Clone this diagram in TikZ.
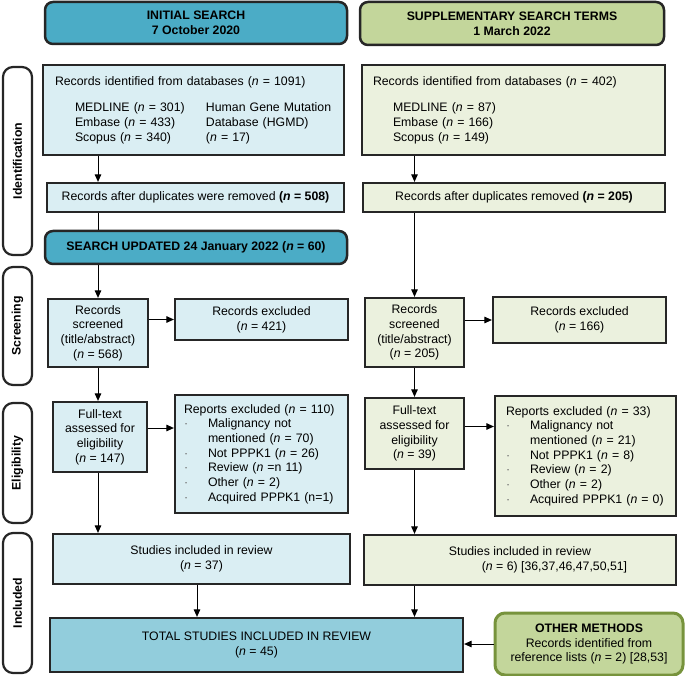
\documentclass[tikz,border=0pt]{standalone}
\usepackage{fontspec}
\setmainfont{Liberation Sans}
\usepackage{tikz}
\usetikzlibrary{positioning}
\usetikzlibrary{arrows.meta,calc}
\definecolor{headblue}{HTML}{4BACC6}
\definecolor{totblue}{HTML}{92CDDC}
\definecolor{paleblue}{HTML}{DAEEF3}
\definecolor{headgreen}{HTML}{C3D69B}
\definecolor{palegreen}{HTML}{EBF1DE}
\definecolor{othborder}{HTML}{77933C}
\tikzstyle{box} = [rectangle, draw=black!85, line width=2.2pt, inner sep=0pt, align=center, font=\fontsize{12.3}{14.7}\selectfont]
\tikzstyle{head} = [box, rounded corners=8pt, line width=2.5pt, font=\fontsize{12.3}{15}\selectfont\bfseries]
\tikzstyle{phase} = [box, rounded corners=10pt, fill=white, rotate=90, font=\fontsize{12.3}{14.7}\selectfont\bfseries]
\tikzstyle{arrow} = [line width=1pt, ->, >={Triangle[length=7.5pt,width=6.5pt]}]
\tikzstyle{plain} = [line width=1pt]
\newcommand{\exdot}{\makebox[24pt][l]{\color{black!60}\textperiodcentered}}
\begin{document}
\begin{tikzpicture}[x=1pt, y=-1pt]
\useasboundingbox (0,0) rectangle (685,676);
% phases
\node (sid1) [phase, minimum width=188pt, minimum height=29pt] at (17.5,161) {Identification};
\node (sid2) [phase, minimum width=118pt, minimum height=29pt] at (17.5,326) {Screening};
\node (sid3) [phase, minimum width=120pt, minimum height=29pt] at (17.5,463) {Eligibility};
\node (sid4) [phase, minimum width=140pt, minimum height=29pt] at (17.5,603) {Included};
% initial search
\node (hdrL) [head, fill=headblue, minimum width=302pt, minimum height=42pt] at (196,23) {INITIAL SEARCH\\7 October 2020};
\node (idL) [box, fill=paleblue, align=left, text width=277pt, inner xsep=12pt, minimum height=90pt] at (193.5,110) {Records identified from databases (\textit{n} = 1091)\\[12pt]
\makebox[151pt][l]{\hspace*{20pt}MEDLINE (\textit{n} = 301)}Human Gene Mutation\\
\makebox[151pt][l]{\hspace*{20pt}Embase (\textit{n} = 433)}Database (HGMD)\\
\makebox[151pt][l]{\hspace*{20pt}Scopus (\textit{n} = 340)}(\textit{n} = 17)};
\node (dupL) [box, fill=paleblue, minimum width=297pt, minimum height=29pt] at (195.5,197.5) {Records after duplicates were removed \textbf{(\textit{n} = 508)}};
\node (updL) [head, fill=headblue, minimum width=302pt, minimum height=33pt] at (196,247.5) {SEARCH UPDATED 24 January 2022 (\textit{n} = 60)};
\node (scrL) [box, fill=paleblue, minimum width=100pt, minimum height=68pt] at (98,333) {Records\\screened\\(title/abstract)\\(\textit{n} = 568)};
\node (excL) [box, fill=paleblue, minimum width=173pt, minimum height=41pt] at (261.5,319.5) {Records excluded\\(\textit{n} = 421)};
\node (ftL) [box, fill=paleblue, minimum width=94pt, minimum height=70pt] at (100,437) {Full-text\\assessed for\\eligibility\\(\textit{n} = 147)};
\node (repL) [box, fill=paleblue, align=left, text width=155pt, inner xsep=9pt, minimum height=118pt] at (261.5,454) {Reports excluded (\textit{n} = 110)\\
\exdot Malignancy not\\
\hspace*{24pt}mentioned (\textit{n} = 70)\\
\exdot Not PPPK1 (\textit{n} = 26)\\
\exdot Review (\textit{n} =n 11)\\
\exdot Other (\textit{n} = 2)\\
\exdot Acquired PPPK1 (n=1)};
\node (incL) [box, fill=paleblue, minimum width=297pt, minimum height=50pt] at (201.5,559) {Studies included in review\\(\textit{n} = 37)};
\node (totL) [box, fill=totblue, minimum width=413pt, minimum height=54pt] at (256.5,645) {TOTAL STUDIES INCLUDED IN REVIEW\\(\textit{n} = 45)};
% supplementary search
\node (hdrR) [head, fill=headgreen, minimum width=304pt, minimum height=43pt] at (512,23.5) {SUPPLEMENTARY SEARCH TERMS\\1 March 2022};
\node (idR) [box, fill=palegreen, align=left, text width=281pt, inner xsep=11pt, minimum height=90pt] at (513.5,110) {Records identified from databases (\textit{n} = 402)\\[12pt]
\hspace*{20pt}MEDLINE (\textit{n} = 87)\\
\hspace*{20pt}Embase (\textit{n} = 166)\\
\hspace*{20pt}Scopus (\textit{n} = 149)};
\node (dupR) [box, fill=palegreen, minimum width=302pt, minimum height=29pt] at (514,197.5) {Records after duplicates removed \textbf{(\textit{n} = 205)}};
\node (scrR) [box, fill=palegreen, minimum width=99pt, minimum height=69pt] at (414.5,332.5) {Records\\screened\\(title/abstract)\\(\textit{n} = 205)};
\node (excR) [box, fill=palegreen, minimum width=173pt, minimum height=46pt] at (579.5,320) {Records excluded\\(\textit{n} = 166)};
\node (ftR) [box, fill=palegreen, minimum width=99pt, minimum height=71pt] at (414.5,433.5) {Full-text\\assessed for\\eligibility\\(\textit{n} = 39)};
\node (repR) [box, fill=palegreen, align=left, text width=159pt, inner xsep=11pt, minimum height=120pt] at (585.5,456) {Reports excluded (\textit{n} = 33)\\
\exdot Malignancy not\\
\hspace*{24pt}mentioned (\textit{n} = 21)\\
\exdot Not PPPK1 (\textit{n} = 8)\\
\exdot Review (\textit{n} = 2)\\
\exdot Other (\textit{n} = 2)\\
\exdot Acquired PPPK1 (\textit{n} = 0)};
\node (incR) [box, fill=palegreen, minimum width=312pt, minimum height=50pt] at (520,560) {Studies included in review\\\hspace*{69pt}(\textit{n} = 6) [36,37,46,47,50,51]};
\node (oth) [box, fill=headgreen, draw=othborder, line width=3pt, rounded corners=10pt, minimum width=188pt, minimum height=62pt] at (589,644) {\textbf{OTHER METHODS}\\Records identified from\\reference lists (\textit{n} = 2) [28,53]};
% connectors, left
\draw [arrow] (idL.south -| scrL.north) -- (dupL.north -| scrL.north);
\draw [plain] (dupL.south -| scrL.north) -- (updL.north -| scrL.north);
\draw [arrow] (updL.south -| scrL.north) -- (scrL.north);
\draw [arrow] (excL.west -| scrL.east) -- (excL.west);
\draw [arrow] (scrL.south) -- (ftL.north -| scrL.south);
\draw [arrow] ([yshift=9pt]ftL.east) -- ([yshift=9pt]ftL.east -| repL.west);
\draw [arrow] (ftL.south -| scrL.south) -- (incL.north -| scrL.south);
\draw [arrow] (incL.south -| 197,0) -- (totL.north -| 197,0);
% connectors, right
\draw [arrow] (idR.south -| scrR.north) -- (dupR.north -| scrR.north);
\draw [arrow] (dupR.south -| scrR.north) -- (scrR.north);
\draw [arrow] (excR.west -| scrR.east) -- (excR.west);
\draw [arrow] (scrR.south) -- (ftR.north);
\draw [arrow] ([yshift=7pt]ftR.east) -- ([yshift=7pt]ftR.east -| repR.west);
\draw [arrow] (ftR.south) -- (incR.north -| ftR.south);
\draw [arrow] (incR.south -| ftR.south) -- (totL.north -| ftR.south);
\draw [arrow] (oth.west) -- (totL.east |- oth.west);
\end{tikzpicture}
\end{document}
